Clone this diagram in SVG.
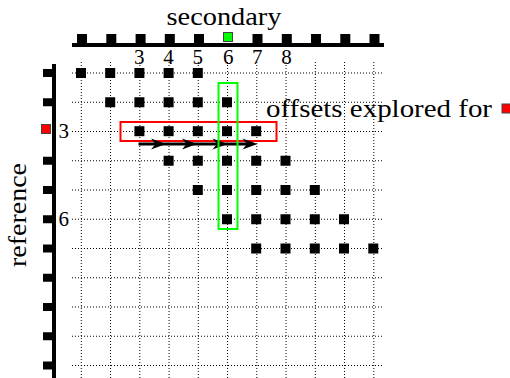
<svg xmlns="http://www.w3.org/2000/svg" xmlns:xlink="http://www.w3.org/1999/xlink" width="510" height="378" viewBox="0 0 510 378">
  <style>
    .grid line { stroke: #000; stroke-width: 1; stroke-dasharray: 1 2; }
    .axis { stroke: #000; stroke-width: 4; }
    .tick { fill: #000; }
    .cell { fill: #000; }
    .lbl { font-family: "Liberation Serif", "Times New Roman", serif; font-size: 21px; fill: #000; }
    .title { font-family: "Liberation Serif", "Times New Roman", serif; font-size: 25px; fill: #000; }
    .hl-row { fill: none; stroke: #ff0000; stroke-width: 2; }
    .hl-col { fill: none; stroke: #00ff00; stroke-width: 2; }
    .step { stroke: #000; stroke-width: 3; fill: none; }
  </style>
  <defs>
    <rect id="sq" x="-5" y="-5" width="10" height="10" class="cell"/>
    <rect id="ttick" x="-5" y="-10" width="10" height="10" class="tick"/>
    <rect id="ltick" x="-10" y="-4" width="10" height="8" class="tick"/>
    <path id="stealth" d="M0,0 L-15,-5.5 L-10.5,0 L-15,5.5 Z" fill="#000"/>
  </defs>

  <!-- dotted lattice -->
  <g id="grid" class="grid">
    <line x1="81.3" y1="62" x2="81.3" y2="378"/>
    <line x1="110.55" y1="62" x2="110.55" y2="378"/>
    <line x1="139.8" y1="62" x2="139.8" y2="378"/>
    <line x1="169.05" y1="62" x2="169.05" y2="378"/>
    <line x1="198.3" y1="62" x2="198.3" y2="378"/>
    <line x1="227.55" y1="62" x2="227.55" y2="378"/>
    <line x1="256.8" y1="62" x2="256.8" y2="378"/>
    <line x1="286.05" y1="62" x2="286.05" y2="378"/>
    <line x1="315.3" y1="62" x2="315.3" y2="378"/>
    <line x1="344.55" y1="62" x2="344.55" y2="378"/>
    <line x1="373.8" y1="62" x2="373.8" y2="378"/>
    <line x1="72" y1="73" x2="384" y2="73"/>
    <line x1="72" y1="102.25" x2="384" y2="102.25"/>
    <line x1="72" y1="131.5" x2="384" y2="131.5"/>
    <line x1="72" y1="160.75" x2="384" y2="160.75"/>
    <line x1="72" y1="190" x2="384" y2="190"/>
    <line x1="72" y1="219.25" x2="384" y2="219.25"/>
    <line x1="72" y1="248.5" x2="384" y2="248.5"/>
    <line x1="72" y1="277.75" x2="384" y2="277.75"/>
    <line x1="72" y1="307" x2="384" y2="307"/>
    <line x1="72" y1="336.25" x2="384" y2="336.25"/>
    <line x1="72" y1="365.5" x2="384" y2="365.5"/>
  </g>

  <!-- secondary axis (top) -->
  <g id="secondary-axis">
    <line class="axis" x1="72" y1="45" x2="384" y2="45"/>
    <use xlink:href="#ttick" x="82" y="44"/>
    <use xlink:href="#ttick" x="111.3" y="44"/>
    <use xlink:href="#ttick" x="140.6" y="44"/>
    <use xlink:href="#ttick" x="169.8" y="44"/>
    <use xlink:href="#ttick" x="199" y="44"/>
    <use xlink:href="#ttick" x="257.5" y="44"/>
    <use xlink:href="#ttick" x="286.8" y="44"/>
    <use xlink:href="#ttick" x="316" y="44"/>
    <use xlink:href="#ttick" x="345.3" y="44"/>
    <use xlink:href="#ttick" x="374.5" y="44"/>
    <rect id="secondary-current" x="223.5" y="32.5" width="9" height="9" fill="#00ff00" stroke="#444" stroke-width="1"/>
    <text class="title" x="166.5" y="25" textLength="115" lengthAdjust="spacingAndGlyphs">secondary</text>
    <text class="lbl" text-anchor="middle" x="139.3" y="63.5">3</text>
    <text class="lbl" text-anchor="middle" x="168.5" y="63.5">4</text>
    <text class="lbl" text-anchor="middle" x="197.8" y="63.5">5</text>
    <text class="lbl" text-anchor="middle" x="228.3" y="63.5">6</text>
    <text class="lbl" text-anchor="middle" x="257.3" y="63.5">7</text>
    <text class="lbl" text-anchor="middle" x="286.6" y="63.5">8</text>
  </g>

  <!-- reference axis (left) -->
  <g id="reference-axis">
    <line class="axis" x1="54" y1="64" x2="54" y2="378"/>
    <use xlink:href="#ltick" x="53" y="73"/>
    <use xlink:href="#ltick" x="53" y="102.25"/>
    <use xlink:href="#ltick" x="53" y="160.75"/>
    <use xlink:href="#ltick" x="53" y="190"/>
    <use xlink:href="#ltick" x="53" y="219.25"/>
    <use xlink:href="#ltick" x="53" y="248.5"/>
    <use xlink:href="#ltick" x="53" y="277.75"/>
    <use xlink:href="#ltick" x="53" y="307"/>
    <use xlink:href="#ltick" x="53" y="336.25"/>
    <use xlink:href="#ltick" x="53" y="365.5"/>
    <rect id="reference-current" x="41.5" y="124.5" width="9" height="9" fill="#ff0000" stroke="#444" stroke-width="1"/>
    <text class="title" transform="translate(25.5,267) rotate(-90)" x="0" y="0" textLength="104" lengthAdjust="spacingAndGlyphs">reference</text>
    <text class="lbl" x="58.5" y="138.3">3</text>
    <text class="lbl" x="58.5" y="226">6</text>
  </g>

  <!-- alignment cells -->
  <g id="cells">
    <g id="row1">
      <use xlink:href="#sq" x="81" y="73"/>
      <use xlink:href="#sq" x="110.2" y="73"/>
      <use xlink:href="#sq" x="139.4" y="73"/>
      <use xlink:href="#sq" x="168.6" y="73"/>
      <use xlink:href="#sq" x="197.8" y="73"/>
    </g>
    <g id="row2">
      <use xlink:href="#sq" x="110.2" y="102.25"/>
      <use xlink:href="#sq" x="139.4" y="102.25"/>
      <use xlink:href="#sq" x="168.6" y="102.25"/>
      <use xlink:href="#sq" x="197.8" y="102.25"/>
      <use xlink:href="#sq" x="227" y="102.25"/>
    </g>
    <g id="row3">
      <use xlink:href="#sq" x="139.4" y="131.2"/>
      <use xlink:href="#sq" x="168.6" y="131.2"/>
      <use xlink:href="#sq" x="197.8" y="131.2"/>
      <use xlink:href="#sq" x="227" y="131.2"/>
      <use xlink:href="#sq" x="256.2" y="131.2"/>
    </g>
    <g id="row4">
      <use xlink:href="#sq" x="168.6" y="160.75"/>
      <use xlink:href="#sq" x="197.8" y="160.75"/>
      <use xlink:href="#sq" x="227" y="160.75"/>
      <use xlink:href="#sq" x="256.2" y="160.75"/>
      <use xlink:href="#sq" x="285.5" y="160.75"/>
    </g>
    <g id="row5">
      <use xlink:href="#sq" x="197.8" y="190"/>
      <use xlink:href="#sq" x="227" y="190"/>
      <use xlink:href="#sq" x="256.2" y="190"/>
      <use xlink:href="#sq" x="285.5" y="190"/>
      <use xlink:href="#sq" x="314.8" y="190"/>
    </g>
    <g id="row6">
      <use xlink:href="#sq" x="227" y="219.25"/>
      <use xlink:href="#sq" x="256.2" y="219.25"/>
      <use xlink:href="#sq" x="285.5" y="219.25"/>
      <use xlink:href="#sq" x="314.8" y="219.25"/>
      <use xlink:href="#sq" x="344" y="219.25"/>
    </g>
    <g id="row7">
      <use xlink:href="#sq" x="256.2" y="248.5"/>
      <use xlink:href="#sq" x="285.5" y="248.5"/>
      <use xlink:href="#sq" x="314.8" y="248.5"/>
      <use xlink:href="#sq" x="344" y="248.5"/>
      <use xlink:href="#sq" x="373.3" y="248.5"/>
    </g>
  </g>

  <!-- highlighted reference row -->
  <rect id="row-band" class="hl-row" x="120.5" y="122" width="156" height="19"/>

  <!-- steps along the current reference row -->
  <g id="connectors">
    <line class="step" x1="138.5" y1="144" x2="250" y2="144"/>
    <use xlink:href="#stealth" x="166" y="144"/>
    <use xlink:href="#stealth" x="197" y="144"/>
    <use xlink:href="#stealth" x="227.5" y="144"/>
    <use xlink:href="#stealth" x="257.5" y="144"/>
  </g>

  <!-- highlighted secondary column -->
  <rect id="col-band" class="hl-col" x="218.5" y="83" width="19" height="146"/>

  <!-- legend -->
  <g id="legend">
    <text class="title" x="266" y="117" textLength="226" lengthAdjust="spacingAndGlyphs">offsets explored for</text>
    <rect x="502" y="104" width="9" height="9" fill="#ff0000" stroke="#444" stroke-width="1"/>
  </g>
</svg>
